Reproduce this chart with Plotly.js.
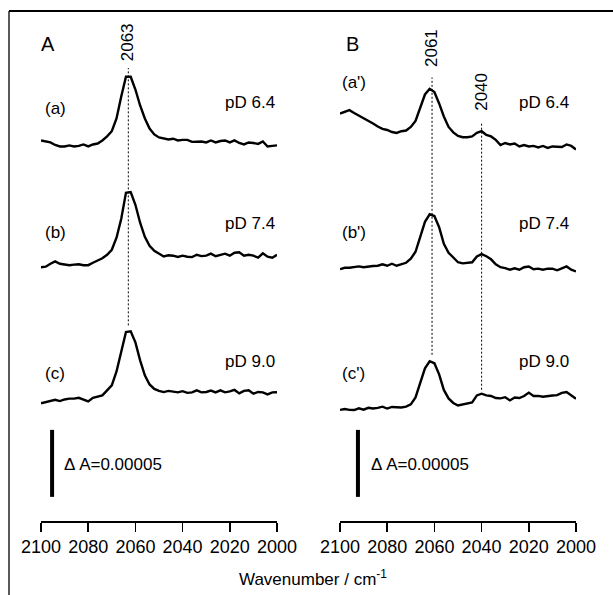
<!DOCTYPE html>
<html>
<head>
<meta charset="utf-8">
<script src="https://cdn.plot.ly/plotly-3.0.1.min.js"></script>
<style>html,body{margin:0;padding:0;background:#fff;}#chart{width:613px;height:595px;}</style>
</head>
<body>
<div id="chart"></div>
<script>
// Wavenumber grid (cm^-1)
const wavenumber = [2100,2098,2096,2094,2092,2090,2088,2086,2084,2082,2080,2078,2076,2074,2072,2070,2068,2066,2064,2062,2060,2058,2056,2054,2052,2050,2048,2046,2044,2042,2040,2038,2036,2034,2032,2030,2028,2026,2024,2022,2020,2018,2016,2014,2012,2010,2008,2006,2004,2002,2000];

// Absorbance, units of 1e-5 (relative to each trace's own baseline)
const specA_pD64 = [0.30,0.22,0.15,-0.04,-0.15,-0.15,-0.07,-0.15,-0.11,0.00,-0.15,0.00,0.07,0.30,0.60,0.99,1.94,3.58,5.05,5.05,4.10,2.91,1.94,1.19,0.75,0.52,0.45,0.37,0.43,0.30,0.34,0.34,0.19,0.22,0.22,0.15,0.30,0.15,0.26,0.30,0.15,0.30,0.11,0.00,0.15,0.11,0.04,0.22,-0.15,-0.11,-0.07];
const specA_pD74 = [-0.26,-0.22,0.00,0.17,0.00,-0.05,-0.11,-0.07,-0.04,-0.11,-0.11,0.07,0.22,0.41,0.67,1.04,1.94,3.36,5.30,5.35,4.40,3.06,2.01,1.34,0.97,0.75,0.54,0.63,0.60,0.50,0.60,0.52,0.49,0.67,0.57,0.60,0.75,0.56,0.67,0.75,0.60,0.82,0.86,0.60,0.67,0.60,0.45,0.78,0.52,0.45,0.67];
const specA_pD90 = [-0.22,-0.15,-0.04,0.04,-0.05,0.07,0.13,0.13,0.19,0.04,-0.07,0.19,0.26,0.37,0.75,1.12,2.16,3.58,5.10,5.15,4.33,2.99,1.87,1.19,0.86,0.71,0.62,0.71,0.67,0.60,0.69,0.56,0.60,0.75,0.60,0.63,0.73,0.60,0.75,0.60,0.67,0.78,0.52,0.71,0.75,0.50,0.63,0.60,0.45,0.60,0.61];
const specB_pD64 = [2.31,2.43,2.56,2.35,2.16,1.98,1.74,1.57,1.34,1.16,1.08,0.93,0.86,0.99,1.04,1.31,1.75,2.76,3.73,4.15,3.92,3.06,2.09,1.31,0.90,0.63,0.54,0.54,0.60,0.87,0.99,0.71,0.60,0.34,-0.04,0.11,0.00,0.07,-0.15,-0.04,-0.15,-0.11,-0.22,-0.11,-0.26,-0.15,-0.15,-0.19,0.00,-0.11,-0.37];
const specB_pD74 = [-0.11,0.00,0.00,0.04,0.10,0.04,0.11,0.13,0.15,0.26,0.15,0.30,0.15,0.26,0.37,0.67,1.19,2.31,3.43,3.99,3.86,3.02,1.79,1.12,0.75,0.41,0.33,0.36,0.41,0.84,1.02,0.86,0.63,0.26,0.04,-0.03,-0.15,-0.04,-0.15,0.04,0.09,-0.11,-0.07,-0.15,-0.07,-0.07,-0.19,-0.04,0.10,-0.15,-0.28];
const specB_pD90 = [-0.11,-0.04,-0.11,-0.12,0.01,-0.09,0.05,0.00,0.04,0.13,-0.01,0.11,0.09,0.07,0.13,0.30,0.82,1.87,2.99,3.52,3.37,2.54,1.38,0.75,0.41,0.22,0.30,0.36,0.45,0.97,1.10,0.97,0.93,0.78,0.75,0.84,0.60,0.82,0.78,0.93,1.18,0.93,0.94,0.87,0.93,0.97,0.99,1.16,1.22,0.97,0.72];

// Vertical stacking offsets (units of 1e-5)
const offsetsA = [28.1, 19.2, 9.0];
const offsetsB = [28.1, 18.9, 8.4];
const tracesLabelsA = ["(a)", "(b)", "(c)"];
const tracesLabelsB = ["(a')", "(b')", "(c')"];
const pdLabels = ["pD 6.4", "pD 7.4", "pD 9.0"];
const panelLetters = ["A", "B"];
const peaksA = [2063];
const peaksB = [2061, 2040];
const scaleBarDeltaA = 5; // 0.00005 in units of 1e-5
const scaleBarText = "\u0394 A=0.00005";
const tickVals = [2100, 2080, 2060, 2040, 2020, 2000];

const FONT = "Liberation Sans, Arial, Helvetica, sans-serif";
const seriesA = [specA_pD64, specA_pD74, specA_pD90];
const seriesB = [specB_pD64, specB_pD74, specB_pD90];

const data = [];
function addSeries(list, offs, xa) {
  list.forEach((s, i) => {
    data.push({
      type: 'scatter', mode: 'lines', xaxis: xa, yaxis: 'y',
      x: wavenumber, y: s.map(v => v + offs[i]),
      line: {color: '#000', width: 2.4, shape: 'linear'},
      hoverinfo: 'skip', showlegend: false
    });
  });
}
addSeries(seriesA, offsetsA, 'x');
addSeries(seriesB, offsetsB, 'x2');

// scale bars
const barBase = 1.8;
data.push({type:'scatter', mode:'lines', xaxis:'x', yaxis:'y', x:[2095.3,2095.3], y:[barBase, barBase+scaleBarDeltaA], line:{color:'#000', width:4}, showlegend:false, hoverinfo:'skip'});
data.push({type:'scatter', mode:'lines', xaxis:'x2', yaxis:'y', x:[2092.4,2092.4], y:[barBase, barBase+scaleBarDeltaA], line:{color:'#000', width:4}, showlegend:false, hoverinfo:'skip'});

const annotations = [];
const shapes = [];
const txt = (xref, x, y, text, xanchor, extra) => Object.assign({xref: xref, yref: 'y', x: x, y: y, text: text, showarrow: false, xanchor: xanchor, yanchor: 'middle', font: {family: FONT, size: 17, color: '#000'}}, extra || {});

const labelY = [30.8, 21.5, 11.0];
const pdY = [31.2, 22.2, 11.9];
tracesLabelsA.forEach((t, i) => annotations.push(txt('x', 2099.2, labelY[i], t, 'left')));
tracesLabelsB.forEach((t, i) => annotations.push(txt('x2', 2100, i === 0 ? 32.7 : labelY[i], t, 'left')));
pdLabels.forEach((t, i) => annotations.push(txt('x', 2000, pdY[i], t, 'right')));
pdLabels.forEach((t, i) => annotations.push(txt('x2', 2002, pdY[i], t, 'right')));

// panel letters
annotations.push({xref:'paper', yref:'y', x: 39/613, y: 35.6, text: panelLetters[0], showarrow:false, xanchor:'left', yanchor:'middle', font:{family:FONT, size:20, color:'#000'}});
annotations.push({xref:'paper', yref:'y', x: 344/613, y: 35.6, text: panelLetters[1], showarrow:false, xanchor:'left', yanchor:'middle', font:{family:FONT, size:20, color:'#000'}});

// peak labels + dashed lines
annotations.push(txt('x', peaksA[0], 35.75, String(peaksA[0]), 'center', {textangle: -90}));
annotations.push(txt('x2', peaksB[0], 35.3, String(peaksB[0]), 'center', {textangle: -90}));
annotations.push(txt('x2', peaksB[1], 32.0, String(peaksB[1]), 'center', {textangle: -90}));
const dash = {color:'#000', width:1, dash:'2px,2px'};
shapes.push({type:'line', xref:'x', yref:'y', x0:peaksA[0], x1:peaksA[0], y0:14.6, y1:33.8, line:dash});
shapes.push({type:'line', xref:'x2', yref:'y', x0:peaksB[0], x1:peaksB[0], y0:12.4, y1:33.1, line:dash});
shapes.push({type:'line', xref:'x2', yref:'y', x0:peaksB[1], x1:peaksB[1], y0:9.8, y1:29.8, line:dash});

// scale bar text
annotations.push(txt('x', 2091.1, 4.2, scaleBarText, 'left'));
annotations.push(txt('x2', 2087.7, 4.2, scaleBarText, 'left'));

// axis title
annotations.push({xref:'paper', yref:'paper', x: 313/613, y: -57/510, text:'Wavenumber / cm<sup>-1</sup>', showarrow:false, xanchor:'center', yanchor:'middle', font:{family:FONT, size:17, color:'#000'}});

// outer frame (top and left)
shapes.push({type:'line', xref:'paper', yref:'paper', x0: 9/613, x1: 1, y0: 1, y1: 1, line:{color:'#000', width:2}});
shapes.push({type:'line', xref:'paper', yref:'paper', x0: 9/613, x1: 9/613, y0: 1, y1: -84/510, line:{color:'#000', width:1.3}});

const xaxisBase = {
  range: [2100, 2000], autorange: false, showgrid: false, zeroline: false,
  showline: true, linecolor: '#000', linewidth: 1.5,
  ticks: 'outside', ticklen: 9, tickwidth: 1.5, tickcolor: '#000',
  tickmode: 'array', tickvals: tickVals, ticktext: tickVals.map(String),
  tickfont: {family: FONT, size: 18, color: '#000'}, fixedrange: true
};

const layout = {
  width: 613, height: 595,
  margin: {l: 0, r: 0, t: 11, b: 74},
  paper_bgcolor: '#fff', plot_bgcolor: 'rgba(0,0,0,0)',
  showlegend: false,
  xaxis: Object.assign({}, xaxisBase, {domain: [41/613, 277/613], anchor: 'y'}),
  xaxis2: Object.assign({}, xaxisBase, {domain: [340/613, 576/613], anchor: 'y'}),
  yaxis: {range: [0, 510/13.4], visible: false, fixedrange: true},
  annotations: annotations,
  shapes: shapes
};

Plotly.newPlot('chart', data, layout, {displayModeBar: false, staticPlot: true});
</script>
</body>
</html>
